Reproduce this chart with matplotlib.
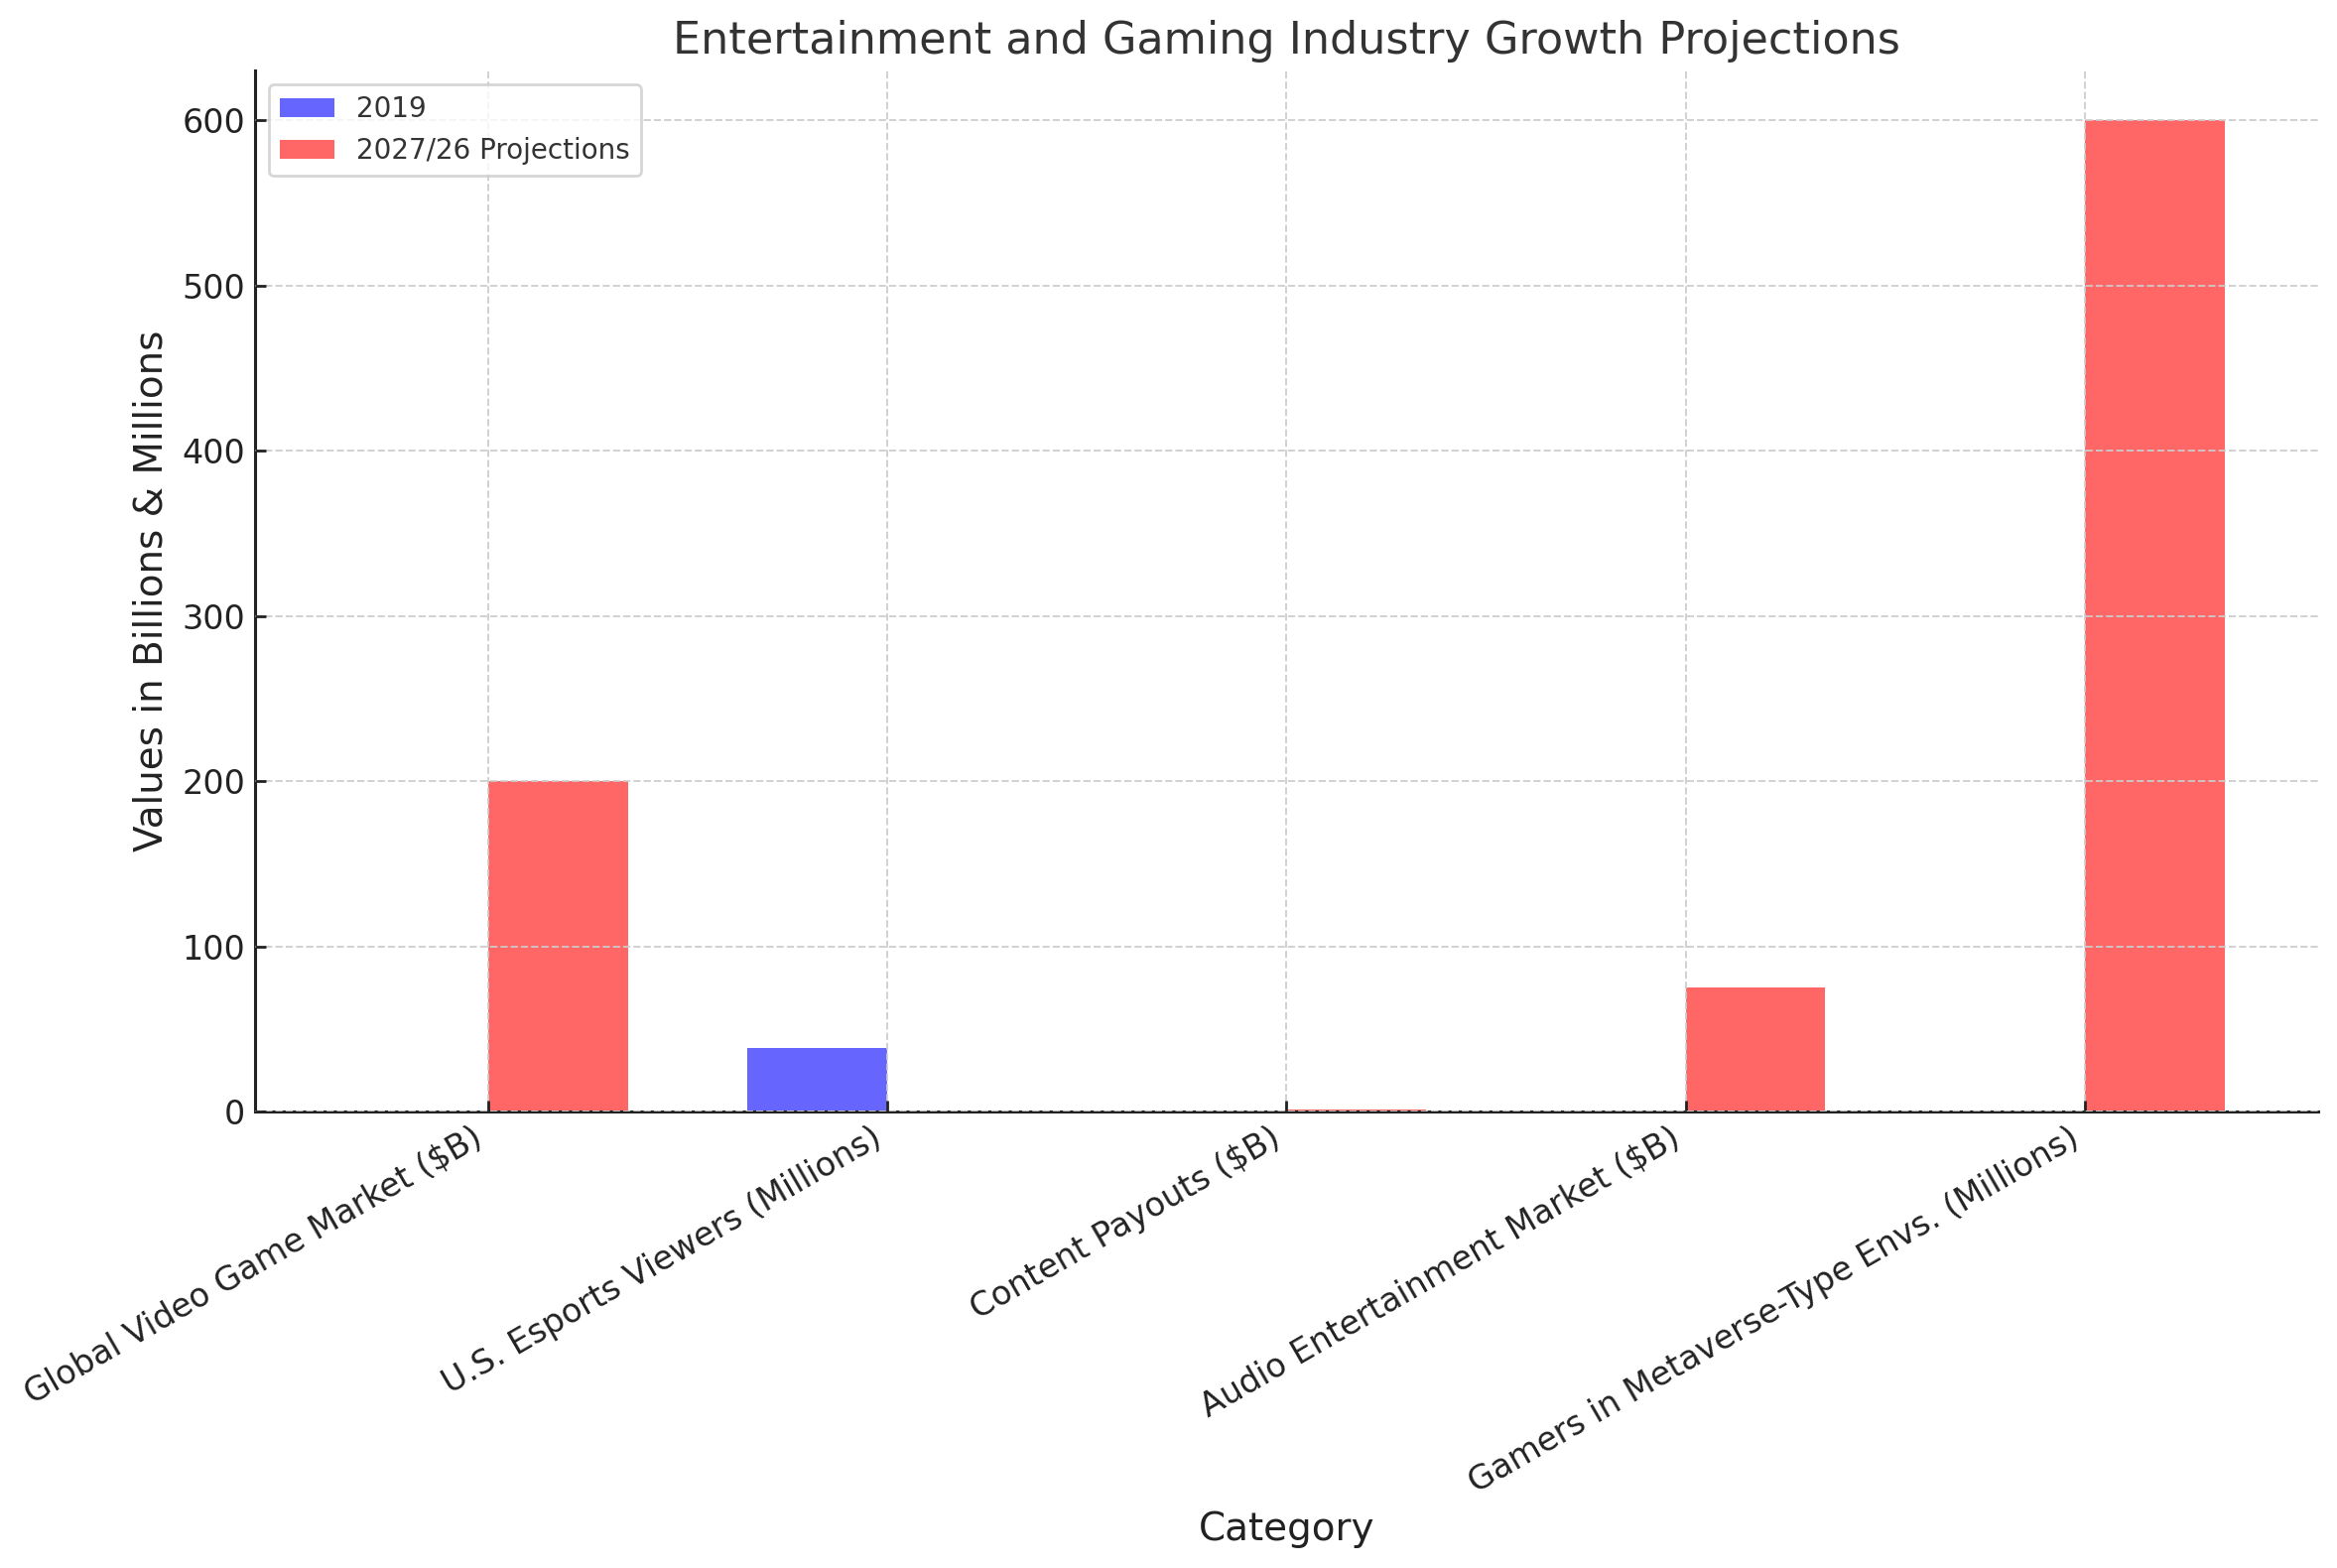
import numpy as np
import matplotlib
matplotlib.use("Agg")
import matplotlib.pyplot as plt

categories = ["Global Video Game Market ($B)", "U.S. Esports Viewers (Millions)",
              "Content Payouts ($B)", "Audio Entertainment Market ($B)",
              "Gamers in Metaverse-Type Envs. (Millions)"]
values_2019 = [0, 38.5, 0, 0, 0]
values_proj = [200, 0, 1.5, 75, 600]
series_labels = ["2019", "2027/26 Projections"]

plt.rcParams['font.family'] = ['DejaVu Sans']
fig = plt.figure(figsize=(11.775, 7.9), dpi=200)
ax = fig.add_axes([0.109, 0.291, 0.883, 0.664])

x = np.arange(len(categories))
width = 0.35
ax.bar(x - width / 2, values_2019, width, label=series_labels[0], color='blue', alpha=0.6)
ax.bar(x + width / 2, values_proj, width, label=series_labels[1], color='red', alpha=0.6)

ax.set_title("Entertainment and Gaming Industry Growth Projections", fontsize=16, color='#333333')
ax.set_xlabel("Category", fontsize=14, color='#222222')
ax.set_ylabel("Values in Billions & Millions", fontsize=14, color='#222222')
ax.set_xticks(x)
ax.set_xticklabels(categories, rotation=30, ha='right', fontsize=12, color='#222222')
ax.tick_params(axis='y', labelsize=12, labelcolor='#222222')
ax.tick_params(direction='in', length=4, width=1.0, color='#222222')
ax.set_axisbelow(False)
ax.grid(True, linestyle='--', color='#cccccc', linewidth=0.7, alpha=0.9)
for s in ['top', 'right']:
    ax.spines[s].set_visible(False)
for s in ['left', 'bottom']:
    ax.spines[s].set_color('#222222')
    ax.spines[s].set_linewidth(1.1)

leg = ax.legend(loc='upper left', fontsize=10, frameon=True, fancybox=True)
leg.get_frame().set_edgecolor('#cccccc')
for t in leg.get_texts():
    t.set_color('#333333')

fig.savefig("out.png", dpi=200)
